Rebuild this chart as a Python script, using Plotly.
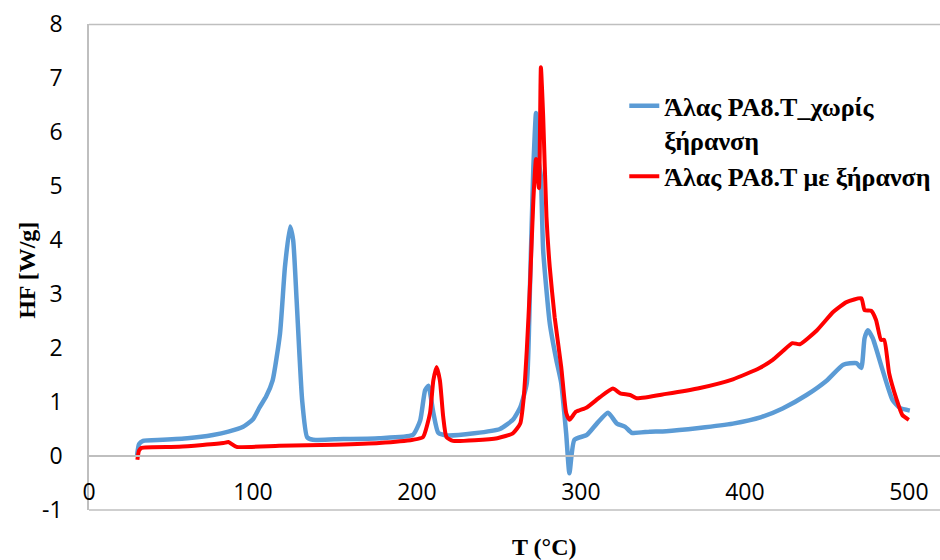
import plotly.graph_objects as go

# Blue series: Άλας PA8.T_χωρίς ξήρανση
t_blue = [29.3, 30.5, 33, 45, 60, 75.6, 85, 94, 100, 104, 108, 112, 116.5, 119.5, 122.6,
          124.5, 126.6, 130, 133, 136.6, 150, 177, 197.5, 202, 205, 207, 210, 213, 218,
          235, 250.6, 258.5, 263, 267, 269, 271, 272.6, 274, 275.5, 277, 281, 285, 288,
          291, 293, 296, 303.6, 309.7, 316.5, 322, 327, 331, 342, 352, 372, 392.7, 410,
          423, 437.6, 450, 460, 468, 471, 473, 475, 478, 484, 490, 494.5, 500.6]
hf_blue = [0.0, 0.22, 0.28, 0.3, 0.33, 0.39, 0.45, 0.54, 0.68, 0.9, 1.1, 1.4, 2.27, 3.5, 4.25,
           4.0, 2.9, 1.03, 0.35, 0.3, 0.31, 0.33, 0.39, 0.66, 1.22, 1.3, 0.8, 0.43, 0.38,
           0.42, 0.5, 0.67, 0.9, 1.35, 3.2, 5.35, 6.35, 5.5, 5.2, 3.8, 2.46, 1.78, 1.35,
           0.42, -0.32, 0.3, 0.39, 0.6, 0.8, 0.6, 0.54, 0.43, 0.45, 0.46, 0.52, 0.6, 0.72,
           0.88, 1.13, 1.4, 1.69, 1.72, 1.63, 2.18, 2.33, 2.18, 1.59, 1.04, 0.89, 0.84]

# Red series: Άλας PA8.T με ξήρανση
t_red = [29.5, 30.5, 32, 55, 82, 85, 90, 116, 150, 177, 197.5, 203.7, 208, 210, 212, 214,
         216, 218, 222, 249, 258.5, 263, 265, 267, 269, 271, 272.6, 274.4, 275.6, 277, 279,
         281, 284, 288, 291, 293, 297, 303.6, 311.6, 319.5, 324, 330, 334, 352, 372.6,
         392.7, 409, 417, 423, 429, 433.5, 444, 454, 462, 471, 473, 477, 480, 483, 485,
         488, 492.6, 496, 500]
hf_red = [-0.07, 0.1, 0.15, 0.17, 0.24, 0.26, 0.17, 0.19, 0.21, 0.24, 0.3, 0.35, 0.8, 1.4,
          1.65, 1.4, 0.73, 0.35, 0.28, 0.33, 0.42, 0.6, 1.04, 1.96, 3.2, 4.74, 5.5, 4.96,
          7.2, 6.28, 4.43, 3.5, 2.57, 1.65, 0.8, 0.67, 0.82, 0.9, 1.09, 1.25, 1.16, 1.13,
          1.07, 1.15, 1.26, 1.42, 1.63, 1.78, 1.94, 2.09, 2.07, 2.33, 2.67, 2.85, 2.92,
          2.7, 2.69, 2.52, 2.15, 2.15, 1.53, 1.04, 0.76, 0.67]

x_ticks = [0, 100, 200, 300, 400, 500]
y_ticks = [-1, 0, 1, 2, 3, 4, 5, 6, 7, 8]

name_blue = "Άλας PA8.T_χωρίς<br>ξήρανση"
name_red = "Άλας PA8.T με ξήρανση"

fig = go.Figure()
fig.add_trace(go.Scatter(x=t_blue, y=hf_blue, mode="lines", name=name_blue,
                         line=dict(color="#5B9BD5", width=4.5, shape="spline", smoothing=0.5)))
fig.add_trace(go.Scatter(x=t_red, y=hf_red, mode="lines", name=name_red,
                         line=dict(color="#FF0000", width=4, shape="spline", smoothing=0.5)))

grid = "#BFBFBF"
tickfont = dict(family="Open Sans", size=23, color="#000000")
legfont = dict(family="Liberation Serif", size=26, color="#000000", weight="bold")
titlefont = dict(family="Liberation Serif", size=24, color="#000000", weight="bold")

fig.update_layout(
    width=940, height=560,
    margin=dict(l=89, r=0, t=24, b=50),
    plot_bgcolor="white", paper_bgcolor="white",
    showlegend=True,
    legend=dict(x=0.629, y=0.88, xanchor="left", yanchor="top", font=legfont,
                valign="top", bgcolor="rgba(0,0,0,0)", tracegroupgap=0),
    xaxis=dict(range=[0, 519], tickvals=x_ticks, ticktext=[str(v) for v in x_ticks],
               showgrid=False, zeroline=False, showline=True, linecolor=grid, linewidth=1.5,
               anchor="free", position=1 / 9, ticks="", tickfont=tickfont,
               ticklabelstandoff=16, automargin=False, ticklabeloverflow="allow"),
    yaxis=dict(range=[-1, 8], tickvals=y_ticks, ticktext=[str(v) for v in y_ticks],
               showgrid=False, zeroline=False, showline=True, linecolor=grid, linewidth=1.5,
               ticks="", tickfont=tickfont, ticklabelstandoff=20, automargin=False,
               ticklabeloverflow="allow"),
    shapes=[
        dict(type="line", xref="paper", yref="paper", x0=0, x1=1, y0=0.999, y1=0.999,
             line=dict(color=grid, width=1.5)),
        dict(type="line", xref="paper", yref="paper", x0=0, x1=1, y0=0, y1=0,
             line=dict(color=grid, width=1.5)),
    ],
    annotations=[
        dict(text="T (°C)", xref="paper", yref="paper", x=0.535, y=-0.076,
             xanchor="center", yanchor="middle", showarrow=False, font=titlefont),
        dict(text="HF [W/g]", xref="paper", yref="paper", x=-0.073, y=0.494,
             xanchor="center", yanchor="middle", textangle=-90, showarrow=False, font=titlefont),
    ],
)

# remove the default 8px page margin so the 940x560 figure fills the window exactly
fig.write_html("out.html", config={"displayModeBar": False},
               post_script="document.body.style.margin='0';")
